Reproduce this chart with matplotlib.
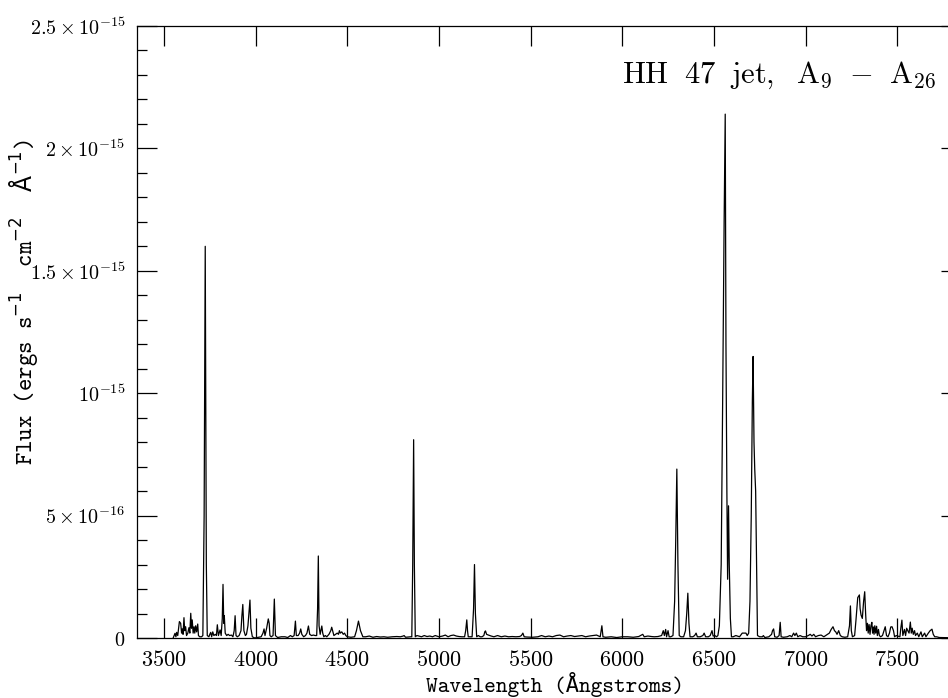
import numpy as np
import matplotlib
matplotlib.use('Agg')
import matplotlib.pyplot as plt
from matplotlib.ticker import MultipleLocator, FixedLocator, FuncFormatter

plt.rcParams['mathtext.fontset'] = 'cm'

# spectrum: wavelength (A), flux in units of 1e-16 erg/s/cm2/A
wave = [
    3550, 3560, 3565, 3569, 3575, 3584, 3591, 3596, 3600, 3604, 3609, 3613, 3618, 3623,
    3630, 3636, 3641, 3646, 3650, 3654, 3659, 3664, 3668, 3673, 3678, 3684, 3688, 3695,
    3705, 3712, 3719, 3725, 3731, 3736, 3745, 3750, 3755, 3760, 3766, 3772, 3780, 3786,
    3791, 3797, 3806, 3812, 3818, 3822, 3826, 3829, 3834, 3842, 3850, 3858, 3868, 3876,
    3883, 3888, 3893, 3900, 3910, 3920, 3925, 3930, 3936, 3944, 3950, 3958, 3965, 3969,
    3974, 3982, 3995, 4010, 4030, 4040, 4046, 4051, 4060, 4069, 4074, 4078, 4085, 4095,
    4102, 4108, 4120, 4140, 4160, 4175, 4190, 4200, 4210, 4217, 4222, 4232, 4240, 4246,
    4252, 4262, 4272, 4280, 4288, 4295, 4305, 4315, 4325, 4333, 4338, 4342, 4346, 4352,
    4356, 4361, 4366, 4372, 4380, 4388, 4400, 4410, 4415, 4420, 4427, 4436, 4445, 4452,
    4457, 4462, 4470, 4478, 4485, 4492, 4500, 4520, 4540, 4550, 4561, 4572, 4585, 4600,
    4620, 4640, 4660, 4680, 4700, 4720, 4745, 4770, 4790, 4805, 4810, 4818, 4830, 4845,
    4852, 4857, 4862, 4866, 4871, 4880, 4890, 4905, 4920, 4935, 4950, 4965, 4980, 5000,
    5020, 5035, 5050, 5065, 5080, 5095, 5110, 5125, 5140, 5146, 5152, 5156, 5160, 5172,
    5181, 5189, 5194, 5199, 5206, 5215, 5225, 5235, 5245, 5250, 5254, 5260, 5270, 5285,
    5300, 5320, 5340, 5360, 5380, 5400, 5420, 5440, 5450, 5458, 5465, 5480, 5510, 5540,
    5560, 5580, 5600, 5620, 5640, 5660, 5680, 5700, 5720, 5740, 5760, 5780, 5800, 5820,
    5840, 5860, 5880, 5889, 5895, 5910, 5940, 5970, 6000, 6030, 6060, 6090, 6105, 6112,
    6120, 6140, 6160, 6175, 6195, 6215, 6224, 6230, 6237, 6242, 6250, 6256, 6265, 6277,
    6286, 6292, 6298, 6304, 6311, 6320, 6335, 6345, 6352, 6358, 6364, 6370, 6385, 6395,
    6403, 6410, 6425, 6440, 6447, 6455, 6470, 6480, 6490, 6496, 6505, 6515, 6522, 6530,
    6540, 6548, 6556, 6562, 6566, 6571, 6575, 6580, 6584, 6590, 6596, 6605, 6620, 6640,
    6655, 6665, 6675, 6682, 6690, 6697, 6704, 6710, 6714, 6719, 6723, 6728, 6732, 6738,
    6750, 6765, 6770, 6778, 6800, 6815, 6820, 6826, 6832, 6845, 6856, 6862, 6867, 6880,
    6900, 6915, 6925, 6935, 6942, 6950, 6958, 6970, 6985, 7000, 7015, 7026, 7035, 7045,
    7055, 7070, 7085, 7100, 7110, 7119, 7130, 7140, 7150, 7158, 7165, 7172, 7181, 7190,
    7200, 7215, 7230, 7240, 7245, 7250, 7256, 7268, 7275, 7285, 7294, 7298, 7303, 7310,
    7317, 7323, 7328, 7333, 7338, 7342, 7347, 7352, 7357, 7362, 7366, 7370, 7374, 7378,
    7383, 7388, 7392, 7398, 7403, 7410, 7420, 7428, 7435, 7442, 7450, 7458, 7465, 7472,
    7480, 7486, 7495, 7515, 7520, 7526, 7531, 7540, 7546, 7552, 7558, 7565, 7572, 7577,
    7582, 7588, 7595, 7600, 7610, 7618, 7630, 7637, 7650, 7657, 7670, 7680, 7690, 7697,
    7705, 7715, 7730, 7850,
]
flux = [
    0.0, 0.19, 0.05, 0.23, 0.1, 0.67, 0.60, 0.2, 0.37, 0.15, 0.83, 0.3, 0.46, 0.1,
    0.2, 0.42, 0.2, 1.01, 0.4, 0.74, 0.2, 0.46, 0.2, 0.50, 0.25, 0.57, 0.1, 0.05,
    0.05, 0.1, 5.0, 16.0, 3.0, 0.1, 0.05, 0.15, 0.23, 0.05, 0.25, 0.1, 0.15, 0.1,
    0.54, 0.1, 0.33, 0.1, 0.8, 2.19, 0.6, 0.91, 0.2, 0.1, 0.15, 0.1, 0.12, 0.05,
    0.3, 0.91, 0.1, 0.05, 0.1, 0.3, 0.9, 1.37, 0.3, 0.1, 0.15, 0.5, 1.2, 1.55,
    0.4, 0.05, 0.0, 0.02, 0.05, 0.2, 0.37, 0.1, 0.4, 0.78, 0.6, 0.1, 0.05, 0.1,
    1.59, 0.1, 0.02, 0.05, 0.05, 0.02, 0.1, 0.05, 0.1, 0.69, 0.1, 0.1, 0.2, 0.37,
    0.15, 0.05, 0.1, 0.2, 0.49, 0.15, 0.1, 0.12, 0.1, 0.1, 1.2, 3.35, 0.5, 0.15,
    0.3, 0.49, 0.2, 0.05, 0.1, 0.05, 0.15, 0.3, 0.44, 0.3, 0.1, 0.15, 0.2, 0.15,
    0.3, 0.2, 0.25, 0.15, 0.2, 0.1, 0.05, 0.03, 0.05, 0.3, 0.69, 0.3, 0.05, 0.05,
    0.08, 0.03, 0.06, 0.04, 0.05, 0.03, 0.05, 0.06, 0.05, 0.08, 0.1, 0.03, 0.04, 0.05,
    0.05, 3.0, 8.1, 3.0, 0.05, 0.1, 0.08, 0.05, 0.1, 0.06, 0.08, 0.05, 0.1, 0.05,
    0.08, 0.12, 0.05, 0.1, 0.12, 0.08, 0.06, 0.05, 0.05, 0.3, 0.74, 0.3, 0.05, 0.05,
    0.05, 1.2, 3.0, 1.0, 0.05, 0.1, 0.05, 0.05, 0.1, 0.25, 0.29, 0.15, 0.12, 0.08,
    0.05, 0.1, 0.05, 0.08, 0.05, 0.06, 0.05, 0.06, 0.1, 0.2, 0.05, 0.04, 0.03, 0.05,
    0.1, 0.05, 0.08, 0.05, 0.1, 0.12, 0.05, 0.08, 0.1, 0.06, 0.08, 0.1, 0.05, 0.08,
    0.1, 0.12, 0.05, 0.5, 0.05, 0.03, 0.05, 0.02, 0.05, 0.05, 0.03, 0.06, 0.12, 0.15,
    0.05, 0.08, 0.06, 0.05, 0.06, 0.1, 0.3, 0.1, 0.35, 0.05, 0.3, 0.05, 0.05, 0.1,
    1.5, 4.0, 6.9, 3.0, 0.1, 0.05, 0.05, 0.3, 1.0, 1.83, 0.6, 0.05, 0.05, 0.1,
    0.2, 0.05, 0.05, 0.1, 0.2, 0.05, 0.05, 0.1, 0.3, 0.08, 0.1, 0.05, 0.1, 0.5,
    3.0, 9.7, 17.0, 21.4, 12.0, 6.0, 2.4, 5.4, 3.0, 0.8, 0.05, 0.05, 0.1, 0.05,
    0.2, 0.2, 0.2, 0.1, 0.2, 1.5, 5.0, 9.7, 11.5, 8.0, 6.9, 6.0, 3.5, 0.1,
    0.05, 0.05, 0.1, 0.02, 0.05, 0.15, 0.3, 0.37, 0.05, 0.03, 0.1, 0.64, 0.05, 0.03,
    0.05, 0.1, 0.05, 0.2, 0.1, 0.2, 0.05, 0.1, 0.05, 0.05, 0.1, 0.15, 0.08, 0.15,
    0.05, 0.1, 0.12, 0.05, 0.1, 0.15, 0.2, 0.35, 0.46, 0.3, 0.25, 0.15, 0.3, 0.1,
    0.05, 0.03, 0.05, 0.5, 1.31, 0.3, 0.05, 0.1, 0.7, 1.65, 1.76, 1.2, 0.94, 0.8,
    1.5, 1.89, 1.0, 0.3, 0.6, 0.2, 0.55, 0.15, 0.5, 0.64, 0.2, 0.45, 0.15, 0.5,
    0.2, 0.48, 0.1, 0.35, 0.1, 0.05, 0.1, 0.3, 0.46, 0.1, 0.05, 0.2, 0.45, 0.46,
    0.3, 0.05, 0.1, 0.05, 0.4, 0.73, 0.1, 0.35, 0.1, 0.4, 0.3, 0.2, 0.65, 0.2,
    0.4, 0.15, 0.3, 0.1, 0.2, 0.05, 0.25, 0.05, 0.2, 0.05, 0.2, 0.3, 0.36, 0.15,
    0.05, 0.05, 0.02, 0.0,
]

x_ticks = [3500, 4000, 4500, 5000, 5500, 6000, 6500, 7000, 7500]
y_ticks = [0, 5e-16, 1e-15, 1.5e-15, 2e-15, 2.5e-15]
y_tick_labels = [r'$0$', r'$5\times10^{-16}$', r'$10^{-15}$',
                 r'$1.5\times10^{-15}$', r'$2\times10^{-15}$', r'$2.5\times10^{-15}$']
title = r'$\mathrm{HH\ \;47\ \;jet,\ \;A_9\ \;{-}\ \;A_{26}}$'
xlabel = 'Wavelength (Ångstroms)'
ylabel = r'Flux (ergs s$^{-1}$  cm$^{-2}$  $\mathrm{\AA}^{-1}$)'

TT = ['cmtt10', 'DejaVu Sans Mono']

fig = plt.figure(figsize=(9.48, 6.98), dpi=100)
# axes runs a little past the right edge of the canvas, as in the original scan
ax = fig.add_axes([136.5 / 948, 60 / 698, 824.8 / 948, 612 / 698])

ax.plot(wave, np.array(flux) * 1e-16, color='black', lw=0.9)

ax.set_xlim(3350, 7850)
ax.set_ylim(0, 2.5e-15)

ax.xaxis.set_major_locator(FixedLocator(x_ticks))
ax.xaxis.set_major_formatter(FuncFormatter(lambda v, p: r'$%d$' % v))
ax.yaxis.set_major_locator(FixedLocator(y_ticks))
ax.yaxis.set_major_formatter(FuncFormatter(
    lambda v, p: y_tick_labels[int(round(v / 5e-16))]))
ax.yaxis.set_minor_locator(MultipleLocator(1e-16))

ax.tick_params(which='both', direction='in', top=True, right=True, width=0.9)
ax.tick_params(which='major', length=14.4)
ax.tick_params(axis='x', which='major', pad=9, labelsize=16)
ax.tick_params(axis='y', which='major', pad=8, labelsize=14.5)
ax.tick_params(which='minor', length=7.2)
for s in ax.spines.values():
    s.set_linewidth(0.9)

ax.set_xlabel(xlabel, fontsize=16, family=TT)
ax.xaxis.set_label_coords(0.507, -0.055)
ax.set_ylabel(ylabel, fontsize=17, family=TT, math_fontfamily='dejavusans')
ax.yaxis.set_label_coords(-0.117, 0.549)

ax.text(0.589, 0.907, title, transform=ax.transAxes, fontsize=22,
        ha='left', va='baseline')

fig.savefig('out.png', dpi=100)
